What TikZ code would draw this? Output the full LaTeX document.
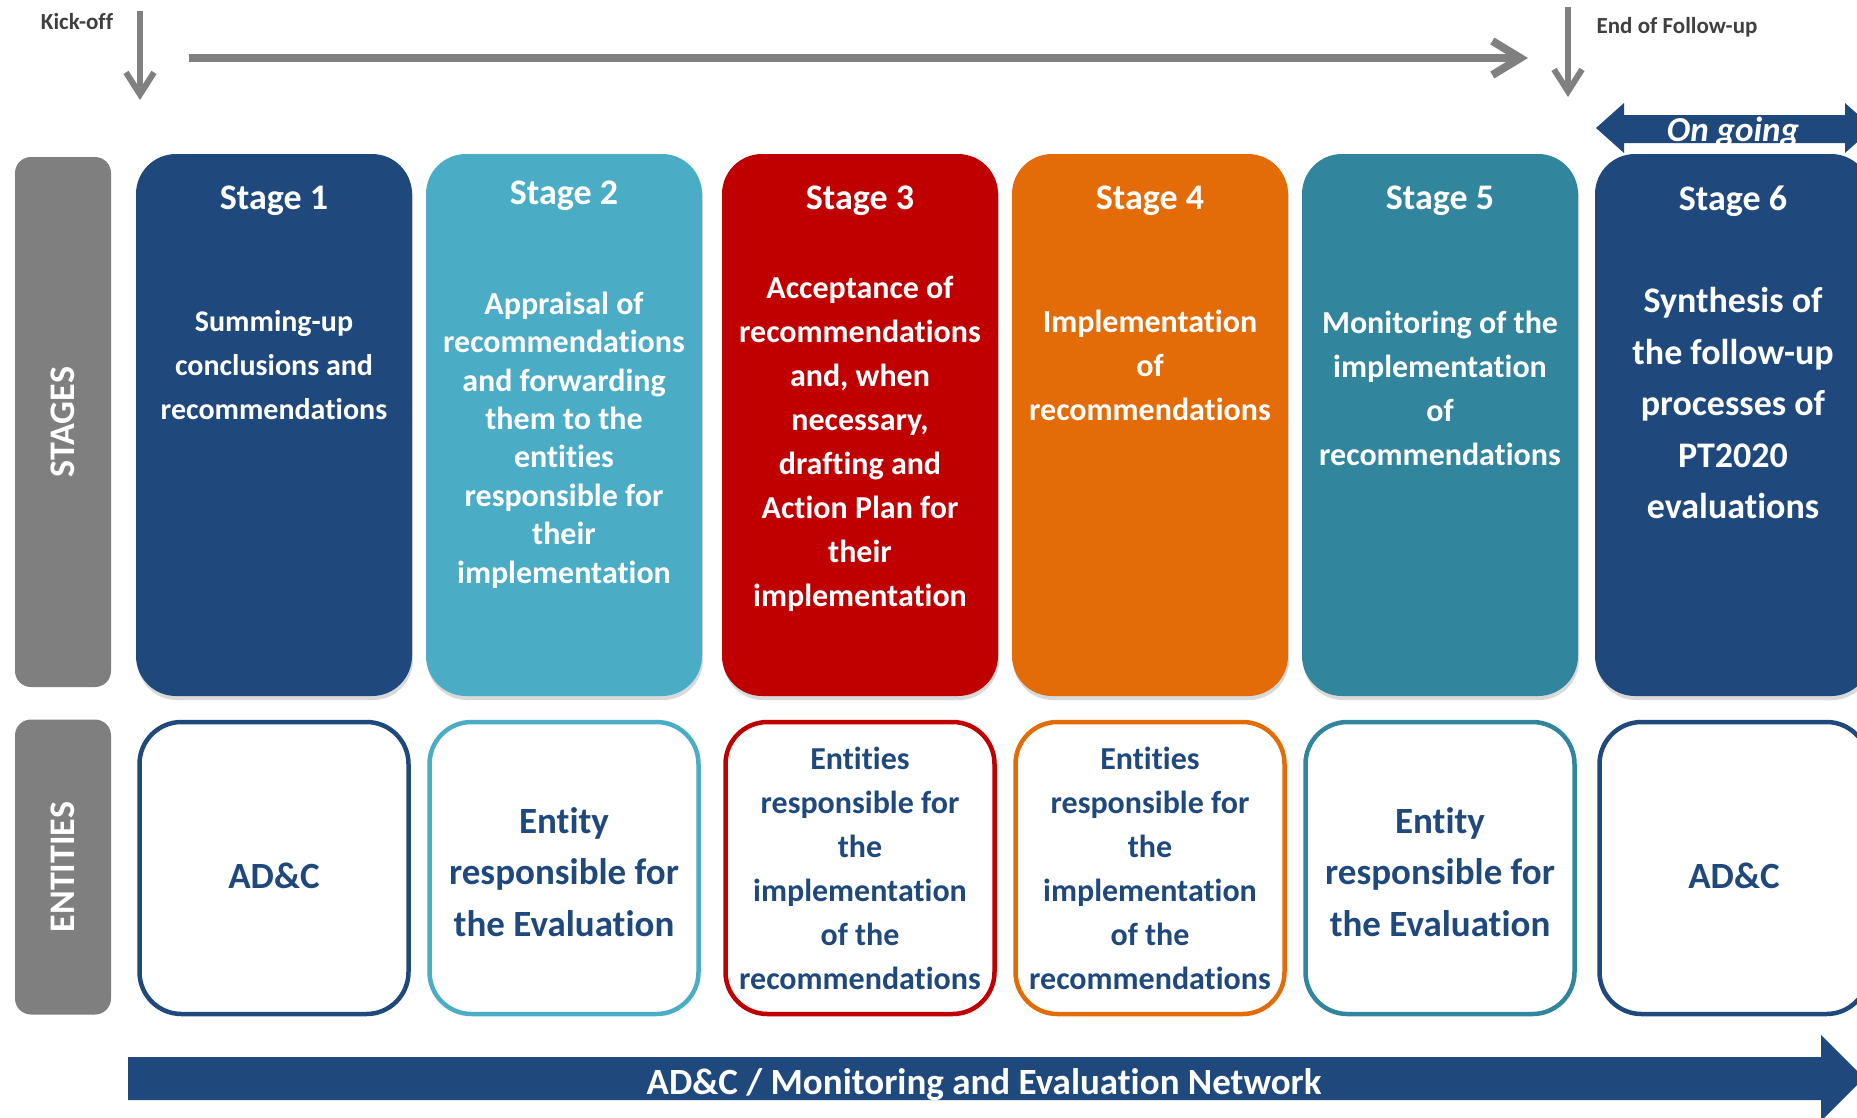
\documentclass[tikz,border=0pt]{standalone}
\usepackage{fontspec}
\setmainfont{Carlito}[RawFeature={-liga}]
\usetikzlibrary{arrows.meta,shadows}

\definecolor{darkblue}{HTML}{1F497D}
\definecolor{lightblue}{HTML}{4BACC6}
\definecolor{darkred}{HTML}{C00000}
\definecolor{stageorange}{HTML}{E36C09}
\definecolor{stageteal}{HTML}{31859C}
\definecolor{boxgray}{HTML}{7F7F7F}
\definecolor{arrowgray}{HTML}{808080}
\definecolor{labelgray}{HTML}{404040}

\begin{document}
\begin{tikzpicture}[x=1pt,y=-1pt,
  stagebox/.style={fill=#1, rounded corners=40pt, minimum width=276pt, minimum height=542pt,
    drop shadow={shadow xshift=1pt, shadow yshift=-4pt, opacity=0.3}},
  entitybox/.style={draw=#1, fill=white, line width=4.5pt, rounded corners=42pt,
    minimum width=269pt, minimum height=292pt},
  labelbox/.style={fill=boxgray, rounded corners=16pt, rotate=90, text=white,
    font=\bfseries\fontsize{36}{40}\selectfont},
  stagetitle/.style={text=white, font=\bfseries\fontsize{36}{40}\selectfont},
  stagetext/.style={text=white, align=center},
  entitytext/.style={text=darkblue, align=center},
  smalllabel/.style={text=labelgray, font=\bfseries\fontsize{23}{26}\selectfont},
  grayarrow/.style={draw=arrowgray}]
\clip (0,0) rectangle (1857,1117);

%\draw [help lines] (0,0) grid[step=100] (1857,1117);

% time line
\coordinate (kicktop) at (140,11);
\coordinate (kickend) at (140,100);
\draw[grayarrow, line width=6pt, -{Straight Barb[length=22pt,width=28pt]}] (kicktop) -- (kickend);
\node[smalllabel] (kickoff) at (77,22) {Kick-off};

\coordinate (timestart) at (189,58);
\coordinate (timeend) at (1528,58);
\draw[grayarrow, line width=8pt, -{Straight Barb[length=28pt,width=34pt]}] (timestart) -- (timeend);

\coordinate (endtop) at (1568,7);
\coordinate (endend) at (1568,97);
\draw[grayarrow, line width=6pt, -{Straight Barb[length=22pt,width=28pt]}] (endtop) -- (endend);
\node[smalllabel] (endfollow) at (1677,27) {End of Follow-up};

\fill[darkblue] (1596,128) -- (1624,103) -- (1624,115) -- (1845,115) -- (1845,103) -- (1873,128)
  -- (1845,153) -- (1845,143) -- (1624,143) -- (1624,153) -- cycle;
\node[text=white, anchor=base, font=\bfseries\itshape\fontsize{35}{40}\selectfont] (ongoing) at (1733,141) {On going};

% row labels
\node[labelbox, minimum width=530pt, minimum height=96pt] (stageslabel) at (63,422) {STAGES};
\node[labelbox, minimum width=295pt, minimum height=96pt] (entitieslabel) at (63,867) {ENTITIES};

% stages
\node[stagebox=darkblue] (stage1) at (274,425) {};
\node[stagebox=lightblue] (stage2) at (564,425) {};
\node[stagebox=darkred] (stage3) at (860,425) {};
\node[stagebox=stageorange] (stage4) at (1150,425) {};
\node[stagebox=stageteal] (stage5) at (1440,425) {};
\node[stagebox=darkblue] (stage6) at (1733,425) {};

\node[stagetitle] (title1) at (274,201) {Stage 1};
\node[stagetitle] (title2) at (564,196) {Stage 2};
\node[stagetitle] (title3) at (860,201) {Stage 3};
\node[stagetitle] (title4) at (1150,201) {Stage 4};
\node[stagetitle] (title5) at (1440,201) {Stage 5};
\node[stagetitle] (title6) at (1733,201) {Stage 6};

\node[stagetext, font=\bfseries\fontsize{30}{44}\selectfont] (text1) at (274,365)
  {Summing-up\\conclusions and\\recommendations};
\node[stagetext, font=\bfseries\fontsize{32}{38.4}\selectfont] (text2) at (564,440)
  {Appraisal of\\recommendations\\and forwarding\\them to the\\entities\\responsible for\\their\\implementation};
\node[stagetext, font=\bfseries\fontsize{32}{44}\selectfont] (text3) at (860,444)
  {Acceptance of\\recommendations\\and, when\\necessary,\\drafting and\\Action Plan for\\their\\implementation};
\node[stagetext, font=\bfseries\fontsize{32}{44}\selectfont] (text4) at (1150,365)
  {Implementation\\of\\recommendations};
\node[stagetext, font=\bfseries\fontsize{32}{44}\selectfont] (text5) at (1440,388)
  {Monitoring of the\\implementation\\of\\recommendations};
\node[stagetext, font=\bfseries\fontsize{36}{51.5}\selectfont] (text6) at (1733,403)
  {Synthesis of\\the follow-up\\processes of\\PT2020\\evaluations};

% entities
\node[entitybox=darkblue] (entity1) at (274,868) {};
\node[entitybox=lightblue] (entity2) at (564,868) {};
\node[entitybox=darkred] (entity3) at (860,868) {};
\node[entitybox=stageorange] (entity4) at (1150,868) {};
\node[entitybox=stageteal] (entity5) at (1440,868) {};
\node[entitybox=darkblue] (entity6) at (1734,868) {};

\node[entitytext, font=\bfseries\fontsize{37}{44}\selectfont] (who1) at (274,876) {AD\&C};
\node[entitytext, font=\bfseries\fontsize{37}{51.5}\selectfont] (who2) at (564,872)
  {Entity\\responsible for\\the Evaluation};
\node[entitytext, font=\bfseries\fontsize{32}{44}\selectfont] (who3) at (860,868)
  {Entities\\responsible for\\the\\implementation\\of the\\recommendations};
\node[entitytext, font=\bfseries\fontsize{32}{44}\selectfont] (who4) at (1150,868)
  {Entities\\responsible for\\the\\implementation\\of the\\recommendations};
\node[entitytext, font=\bfseries\fontsize{37}{51.5}\selectfont] (who5) at (1440,872)
  {Entity\\responsible for\\the Evaluation};
\node[entitytext, font=\bfseries\fontsize{37}{44}\selectfont] (who6) at (1734,876) {AD\&C};

% network
\fill[darkblue] (128,1057) -- (1821,1057) -- (1821,1035) -- (1864,1078) -- (1821,1121)
  -- (1821,1100) -- (128,1100) -- cycle;
\node[text=white, font=\bfseries\fontsize{37}{44}\selectfont] (network) at (984,1085)
  {AD\&C / Monitoring and Evaluation Network};

\end{tikzpicture}
\end{document}
